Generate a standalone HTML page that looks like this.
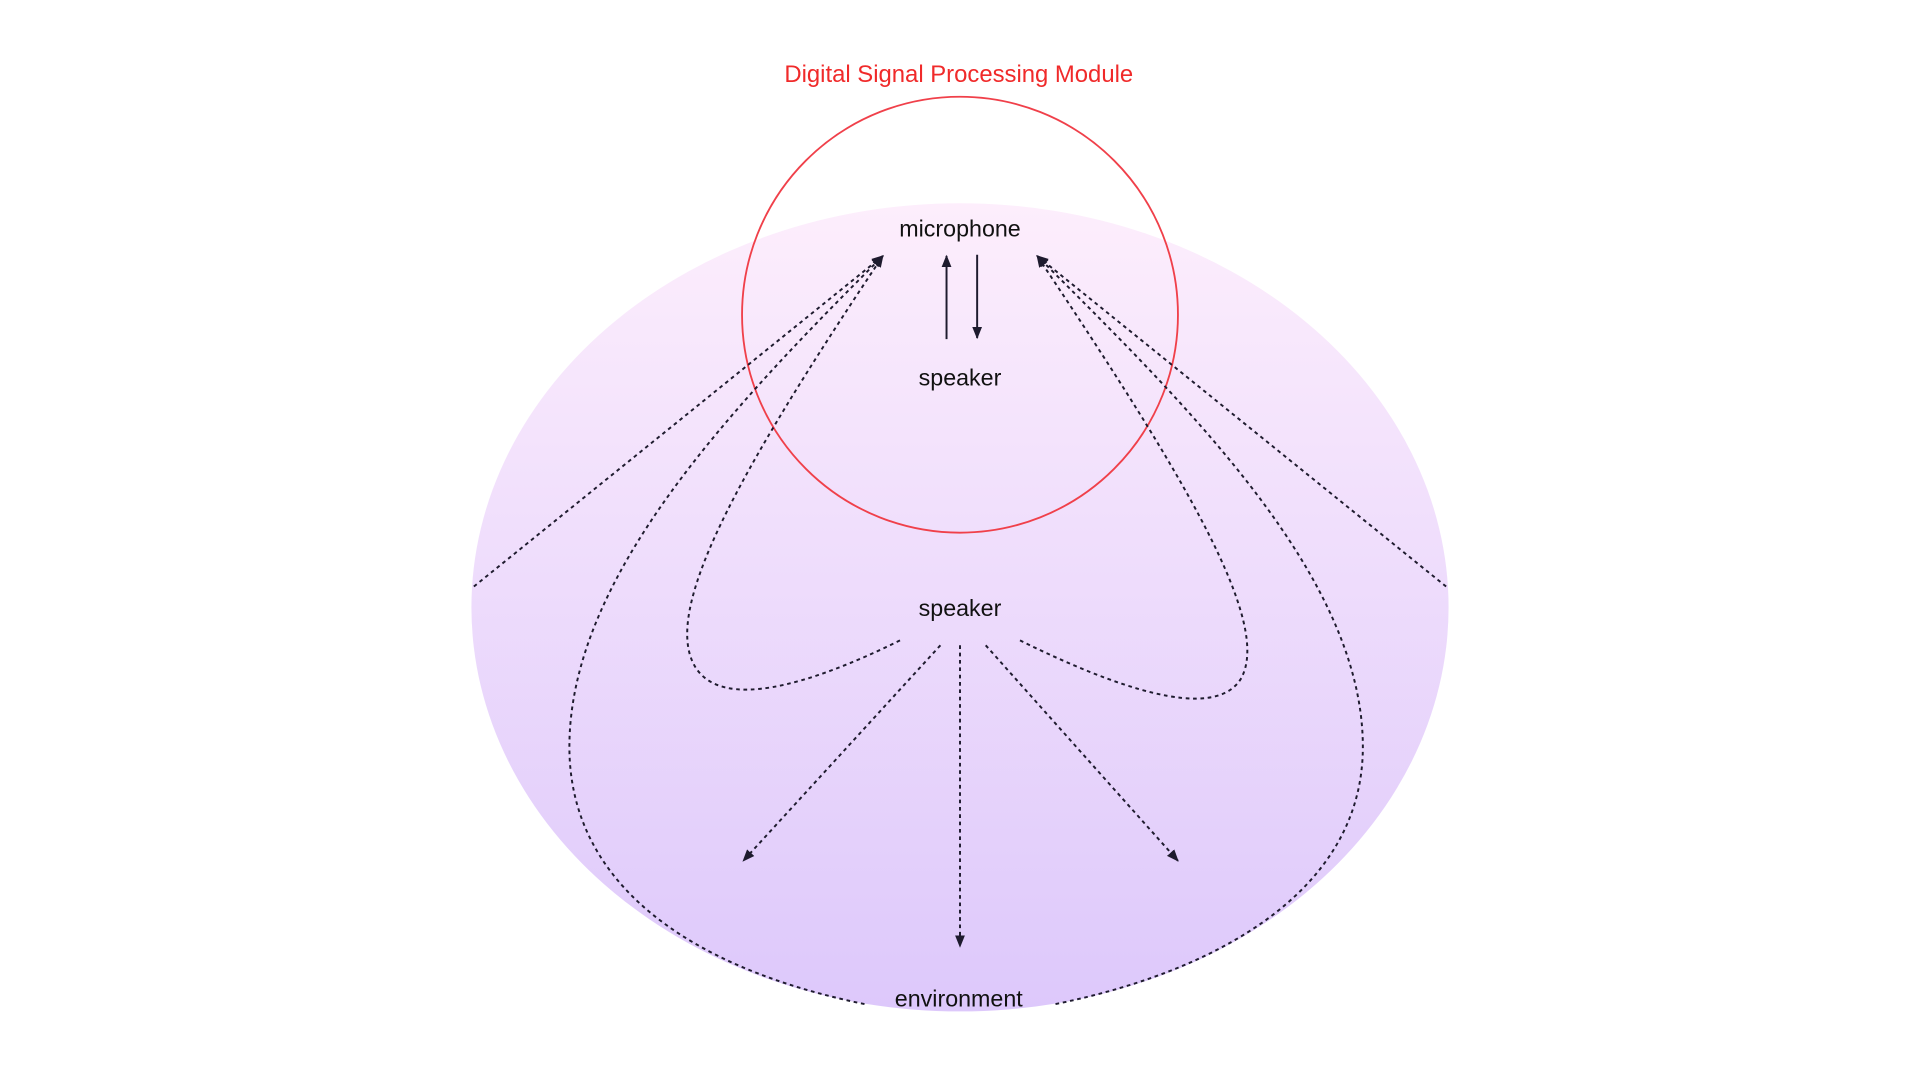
<!DOCTYPE html>
<html><head><meta charset="utf-8"><style>html,body{margin:0;padding:0;background:#fff;width:1920px;height:1080px;overflow:hidden}svg{display:block}</style></head>
<body>
<svg width="1920" height="1080" viewBox="0 0 1568 882" xmlns="http://www.w3.org/2000/svg">
<defs>
<linearGradient id="g" x1="0" y1="0" x2="0" y2="1">
<stop offset="0" stop-color="#fdeefc"/>
<stop offset="1" stop-color="#ddc8fb"/>
</linearGradient>
<marker id="a" markerWidth="10" markerHeight="10" refX="9" refY="5" orient="auto" markerUnits="userSpaceOnUse">
<path d="M0,1 L10,5 L0,9 Z" fill="#1e1b2e"/>
</marker>
</defs>
<ellipse cx="784" cy="496" rx="399" ry="330" fill="url(#g)"/>
<circle cx="784" cy="257" r="178" fill="none" stroke="#f0404a" stroke-width="1.5"/>
<g font-family="Liberation Sans, sans-serif" font-size="19" text-anchor="middle">
<text x="783" y="67" fill="#f02a2a" font-size="19.5">Digital Signal Processing Module</text>
<text x="784" y="193" fill="#111">microphone</text>
<text x="784" y="315" fill="#111">speaker</text>
<text x="784" y="503" fill="#111">speaker</text>
<text x="783" y="822" fill="#111">environment</text>
</g>
<g stroke="#1e1b2e" stroke-width="1.6" fill="none">
<line x1="773" y1="277" x2="773" y2="209" marker-end="url(#a)"/>
<line x1="798" y1="208" x2="798" y2="276" marker-end="url(#a)"/>
</g>
<g stroke="#1e1b2e" stroke-width="1.6" fill="none" stroke-dasharray="3,3">
<line x1="387" y1="479" x2="721" y2="209" marker-end="url(#a)"/>
<path d="M706,820 C560,790 465,720 465,610 C465,470 600,330 721,209" marker-end="url(#a)"/>
<path d="M735,523 C660,560 590,580 568,545 C540,500 600,390 721,209" marker-end="url(#a)"/>
<line x1="1181" y1="479" x2="847" y2="209" marker-end="url(#a)"/>
<path d="M862,820 C1008,790 1113,720 1113,610 C1113,470 968,330 847,209" marker-end="url(#a)"/>
<path d="M833,523 C908,560 990,590 1013,555 C1040,510 968,390 847,209" marker-end="url(#a)"/>
<line x1="768" y1="527" x2="607" y2="703" marker-end="url(#a)"/>
<line x1="784" y1="527" x2="784" y2="773" marker-end="url(#a)"/>
<line x1="805" y1="527" x2="962" y2="703" marker-end="url(#a)"/>
</g>
</svg>
</body></html>
